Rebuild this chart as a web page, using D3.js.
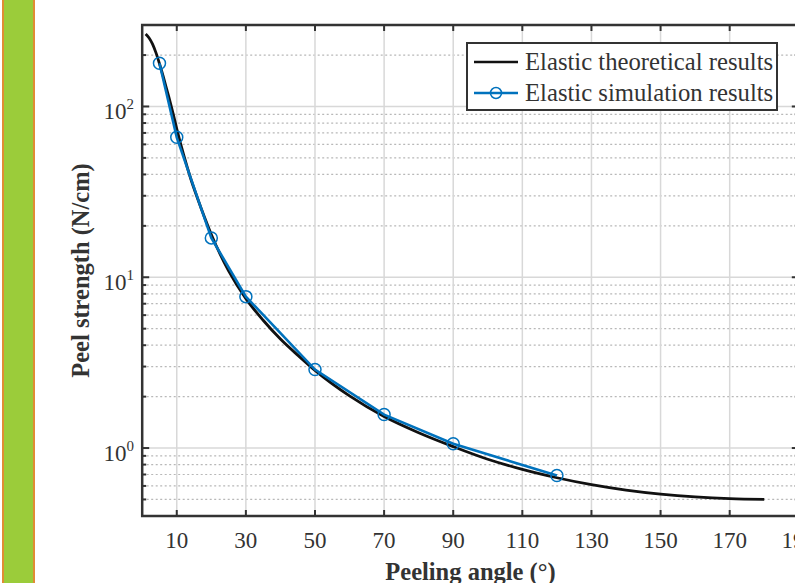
<!DOCTYPE html>
<html>
<head>
<meta charset="utf-8">
<script src="https://cdn.jsdelivr.net/npm/d3@7"></script>
<style>
  body { margin: 0; background: #fff; }
  svg { display: block; font-family: "Liberation Serif", "Times New Roman", serif; }
</style>
</head>
<body>
<div id="chart"></div>
<script>
// Theoretical curve (angle in degrees, strength in N/cm)
const theoAngles = [1, 2, 3, 4, 5, 6, 7, 8, 9, 10, 12, 14, 16, 18, 20, 25, 30, 35, 40, 45, 50, 60, 70, 80, 90, 100, 110, 120, 130, 140, 150, 160, 170, 180];
const theoValues = [266, 252, 232, 206, 178, 152, 128, 108, 90, 74, 52, 38, 29, 22.5, 17.8, 10.9, 7.5, 5.6, 4.35, 3.5, 2.85, 2.02, 1.53, 1.23, 1.02, 0.86, 0.75, 0.67, 0.61, 0.567, 0.537, 0.517, 0.505, 0.5];

// Simulation points
const simAngles = [5, 10, 20, 30, 50, 70, 90, 120];
const simValues = [179, 66, 17, 7.7, 2.88, 1.57, 1.06, 0.69];

const xTicks = [10, 30, 50, 70, 90, 110, 130, 150, 170, 190];
const yMajor = [1, 10, 100];
const yExp = ["0", "1", "2"];
const legendLabels = ["Elastic theoretical results", "Elastic simulation results"];

const width = 795;
const height = 583;
const margin = { top: 25, left: 142.2, bottom: 516, right: 798.8 };

const svg = d3.select("#chart")
    .append("svg")
    .attr("width", width)
    .attr("height", height);

// green side bar
svg.append("rect")
    .attr("x", 3)
    .attr("y", -2)
    .attr("width", 31)
    .attr("height", height + 4)
    .attr("fill", "#9bcc3a")
    .attr("stroke", "#e08c34")
    .attr("stroke-width", 2);

const x = d3.scaleLinear()
    .domain([0, 190])
    .range([margin.left, margin.right]);

const y = d3.scaleLog()
    .domain([0.4, 300])
    .range([margin.bottom, margin.top]);

const minor = y.ticks().filter(v => !yMajor.includes(v) && v > 0.4 && v < 300);

// grid
svg.append("g")
    .selectAll("line")
    .data(minor)
    .enter()
    .append("line")
    .attr("x1", margin.left)
    .attr("x2", margin.right)
    .attr("y1", d => y(d))
    .attr("y2", d => y(d))
    .attr("stroke", "#b8b8b8")
    .attr("stroke-width", 1.2)
    .attr("stroke-dasharray", "2,2.5");

svg.append("g")
    .selectAll("line")
    .data(yMajor)
    .enter()
    .append("line")
    .attr("x1", margin.left)
    .attr("x2", margin.right)
    .attr("y1", d => y(d))
    .attr("y2", d => y(d))
    .attr("stroke", "#d8d8d8")
    .attr("stroke-width", 1.5);

svg.append("g")
    .selectAll("line")
    .data(xTicks)
    .enter()
    .append("line")
    .attr("x1", d => x(d))
    .attr("x2", d => x(d))
    .attr("y1", margin.top)
    .attr("y2", margin.bottom)
    .attr("stroke", "#d8d8d8")
    .attr("stroke-width", 1.5);

// axes box and inward ticks
const axisColor = "#333";
const ticks = svg.append("g").attr("stroke", axisColor).attr("stroke-width", 2);

xTicks.forEach(t => {
    ticks.append("line").attr("x1", x(t)).attr("x2", x(t)).attr("y1", margin.bottom).attr("y2", margin.bottom - 6);
    ticks.append("line").attr("x1", x(t)).attr("x2", x(t)).attr("y1", margin.top).attr("y2", margin.top + 6);
});
yMajor.forEach(t => {
    ticks.append("line").attr("x1", margin.left).attr("x2", margin.left + 7).attr("y1", y(t)).attr("y2", y(t));
    ticks.append("line").attr("x1", margin.right).attr("x2", margin.right - 7).attr("y1", y(t)).attr("y2", y(t));
});
minor.forEach(t => {
    ticks.append("line").attr("x1", margin.left).attr("x2", margin.left + 4).attr("y1", y(t)).attr("y2", y(t));
    ticks.append("line").attr("x1", margin.right).attr("x2", margin.right - 4).attr("y1", y(t)).attr("y2", y(t));
});

svg.append("rect")
    .attr("x", margin.left)
    .attr("y", margin.top)
    .attr("width", margin.right - margin.left)
    .attr("height", margin.bottom - margin.top)
    .attr("fill", "none")
    .attr("stroke", axisColor)
    .attr("stroke-width", 2.5);

// tick labels
svg.append("g")
    .selectAll("text")
    .data(xTicks)
    .enter()
    .append("text")
    .attr("x", d => x(d))
    .attr("y", 548)
    .attr("text-anchor", "middle")
    .style("font-size", "23px")
    .style("fill", "#333")
    .text(d => d);

const yl = svg.append("g")
    .selectAll("text")
    .data(yMajor)
    .enter()
    .append("text")
    .attr("x", 134)
    .attr("y", d => y(d) + 13)
    .attr("text-anchor", "end")
    .style("font-size", "23px")
    .style("fill", "#333");
yl.append("tspan").text("10");
yl.append("tspan")
    .attr("dy", -10)
    .style("font-size", "15px")
    .text((d, i) => yExp[i]);

// axis titles
svg.append("text")
    .attr("x", (margin.left + margin.right) / 2)
    .attr("y", 580)
    .attr("text-anchor", "middle")
    .style("font-size", "24.5px")
    .style("font-weight", "bold")
    .style("fill", "#333")
    .text("Peeling angle (°)");

svg.append("text")
    .attr("transform", `translate(89, ${(margin.top + margin.bottom) / 2}) rotate(-90)`)
    .attr("text-anchor", "middle")
    .style("font-size", "24.5px")
    .style("font-weight", "bold")
    .style("fill", "#333")
    .text("Peel strength (N/cm)");

// curves
const line = d3.line()
    .x(d => x(d[0]))
    .y(d => y(d[1]))
    .curve(d3.curveMonotoneX);

svg.append("path")
    .datum(theoAngles.map((a, i) => [a, theoValues[i]]))
    .attr("d", line)
    .attr("fill", "none")
    .attr("stroke", "#111")
    .attr("stroke-width", 2.8);

const simData = simAngles.map((a, i) => [a, simValues[i]]);
const blue = "#0072bd";

svg.append("path")
    .datum(simData)
    .attr("d", d3.line().x(d => x(d[0])).y(d => y(d[1])))
    .attr("fill", "none")
    .attr("stroke", blue)
    .attr("stroke-width", 2.6);

svg.append("g")
    .selectAll("circle")
    .data(simData)
    .enter()
    .append("circle")
    .attr("cx", d => x(d[0]))
    .attr("cy", d => y(d[1]))
    .attr("r", 6)
    .attr("fill", "none")
    .attr("stroke", blue)
    .attr("stroke-width", 1.5);

// legend
const legend = svg.append("g");
legend.append("rect")
    .attr("x", 467)
    .attr("y", 43)
    .attr("width", 310)
    .attr("height", 67)
    .attr("fill", "#fff")
    .attr("stroke", axisColor)
    .attr("stroke-width", 2);

legendLabels.forEach((label, i) => {
    const ly = 62 + i * 31;
    legend.append("line")
        .attr("x1", 474)
        .attr("x2", 518)
        .attr("y1", ly)
        .attr("y2", ly)
        .attr("stroke", i === 0 ? "#111" : blue)
        .attr("stroke-width", 2.5);
    if (i === 1) {
        legend.append("circle")
            .attr("cx", 496)
            .attr("cy", ly)
            .attr("r", 5.5)
            .attr("fill", "none")
            .attr("stroke", blue)
            .attr("stroke-width", 1.5);
    }
    legend.append("text")
        .attr("x", 525)
        .attr("y", ly + 8)
        .style("font-size", "24.7px")
        .style("fill", "#333")
        .text(label);
});
</script>
</body>
</html>
